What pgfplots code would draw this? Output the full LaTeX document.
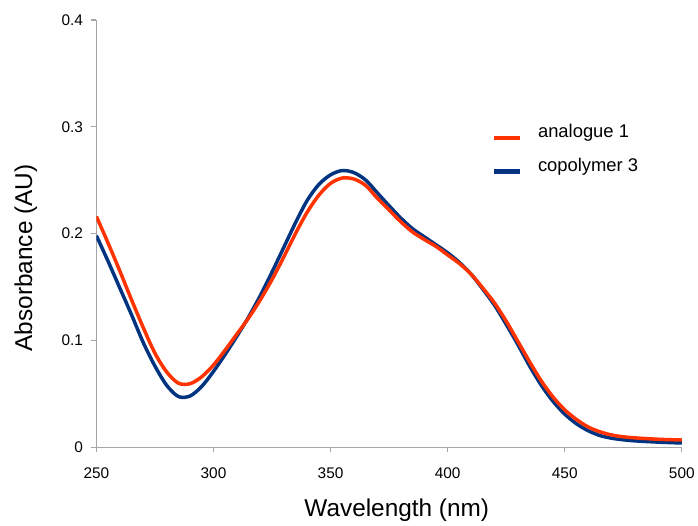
\documentclass[border=0pt]{standalone}
\usepackage{fontspec}
\setmainfont{Liberation Sans}
\usepackage{pgfplots}
\pgfplotsset{compat=1.18}

\definecolor{analogue}{RGB}{255,51,0}
\definecolor{copoly}{RGB}{0,51,128}
\definecolor{axgray}{RGB}{166,166,166}

\begin{document}
\begin{tikzpicture}
\begin{axis}[
  name=ax,
  scale only axis,
  width=589bp, height=430bp,
  xmin=250, xmax=500, ymin=0, ymax=0.4,
  axis x line*=bottom, axis y line*=left,
  axis line style={axgray, line width=1.3bp},
  tick style={axgray, line width=1.3bp},
  tick align=outside,
  major tick length=5bp,
  xtick={250,300,...,500},
  ytick={0,0.1,0.2,0.3,0.4},
  /pgf/number format/assume math mode=true,
  ticklabel style={font=\fontsize{15.5bp}{18bp}\selectfont},
  xticklabel style={yshift=-12bp},
  yticklabel style={xshift=-5bp},
  xlabel={Wavelength (nm)},
  ylabel={Absorbance (AU)},
  label style={font=\fontsize{24.5bp}{29bp}\selectfont},
  xlabel style={at={(axis description cs:0.513,-0.163)}, anchor=base},
  ylabel style={at={(axis description cs:-0.1205,0.443)}, anchor=center},
  legend style={draw=none, fill=none,
    at={(axis description cs:0.670,0.765)}, anchor=north west,
    font=\fontsize{18.5bp}{22bp}\selectfont, row sep=15bp},
  legend cell align=left,
  reverse legend,
  legend image code/.code={\draw[#1, line width=4.5bp] (0bp,-6bp) -- (26bp,-6bp);},
]
\addplot[copoly, line width=3.5bp, smooth] coordinates {
(250,0.198) (255,0.174) (260,0.149) (265,0.124) (270,0.098) (275,0.076)
(280,0.058) (285,0.0475) (290,0.048) (295,0.057) (300,0.071) (305,0.087)
(310,0.104) (315,0.122) (320,0.142) (325,0.164) (330,0.187) (335,0.210)
(340,0.231) (345,0.246) (350,0.255) (355,0.259) (360,0.257) (365,0.250)
(370,0.238) (375,0.226) (380,0.2145) (385,0.2045) (390,0.197) (395,0.1895)
(400,0.182) (405,0.173) (410,0.162) (415,0.148) (420,0.133) (425,0.115)
(430,0.096) (435,0.076) (440,0.058) (445,0.043) (450,0.031) (455,0.022)
(460,0.0155) (465,0.011) (470,0.0085) (475,0.007) (480,0.006) (490,0.0048)
(500,0.004)
};
\addlegendentry{\hspace{14bp}copolymer 3}
\addplot[analogue, line width=3.5bp, smooth] coordinates {
(250,0.216) (255,0.191) (260,0.165) (265,0.138) (270,0.112) (275,0.088)
(280,0.0705) (285,0.060) (290,0.0595) (295,0.066) (300,0.077) (305,0.091)
(310,0.106) (315,0.121) (320,0.138) (325,0.157) (330,0.178) (335,0.200)
(340,0.220) (345,0.236) (350,0.247) (355,0.252) (360,0.251) (365,0.245)
(370,0.233) (375,0.222) (380,0.211) (385,0.2015) (390,0.1945) (395,0.188)
(400,0.180) (405,0.172) (410,0.162) (415,0.149) (420,0.135) (425,0.118)
(430,0.099) (435,0.080) (440,0.062) (445,0.047) (450,0.035) (455,0.026)
(460,0.019) (465,0.0145) (470,0.0115) (475,0.0098) (480,0.0088) (490,0.0075)
(500,0.0068)
};
\addlegendentry{\hspace{14bp}analogue 1}
\end{axis}
\path (ax.south west) ++(-97bp,-73bp) rectangle ++(698bp,523bp);
\end{tikzpicture}
\end{document}
